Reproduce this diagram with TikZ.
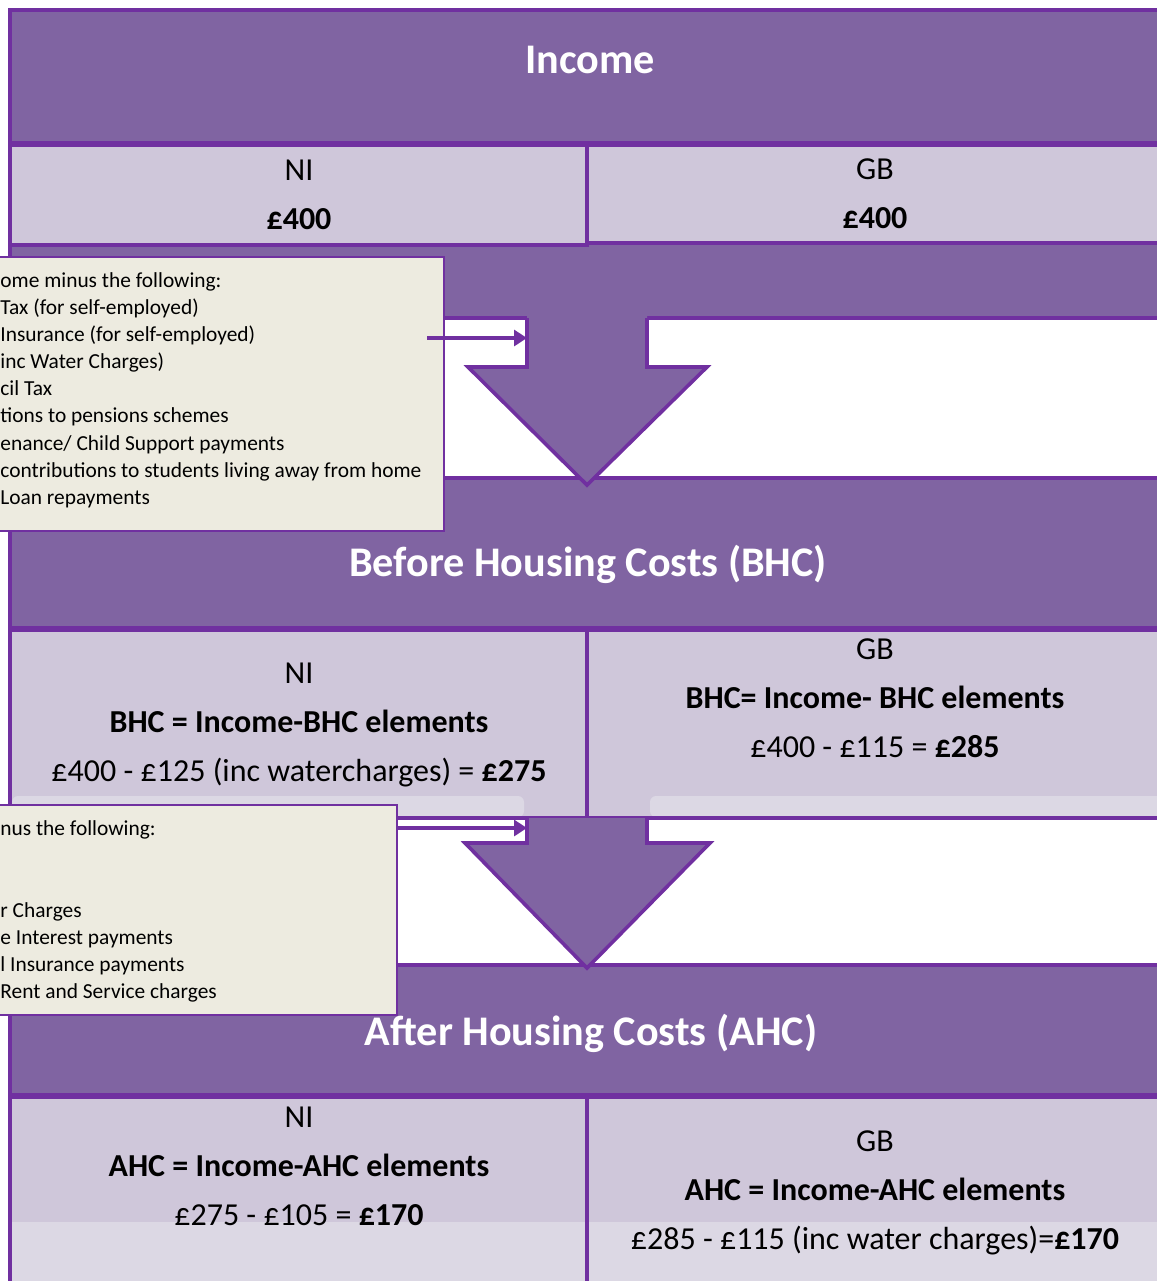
\documentclass[tikz,border=0pt]{standalone}
\usepackage{fontspec}
\setmainfont{Carlito}
\usetikzlibrary{arrows.meta}
\definecolor{purpfill}{HTML}{8064A2}
\definecolor{purpline}{HTML}{7030A0}
\definecolor{cellfill}{HTML}{CFC7DA}
\definecolor{cellpale}{HTML}{DCD8E4}
\definecolor{notefill}{HTML}{EDEBE0}
\begin{document}
\begin{tikzpicture}[x=0.5pt,y=-0.5pt,
  band/.style={fill=purpfill,draw=purpline,line width=1.8pt},
  cellbox/.style={fill=cellfill,draw=purpline,line width=1.8pt},
  gapbox/.style={fill=white,draw=purpline,line width=1.8pt},
  headtext/.style={text=white,font=\fontsize{21.1}{25}\selectfont\bfseries},
  celltext/.style={align=center,font=\fontsize{16}{24.5}\selectfont},
  notebox/.style={fill=notefill,draw=purpline,line width=0.8pt,anchor=north east,inner sep=0pt},
  notetext/.style={align=left,inner sep=0pt,anchor=north west,font=\fontsize{10.7}{13.57}\selectfont},
  link/.style={draw=purpline,line width=1.6pt,-{Triangle[length=6.5pt,width=8pt]}}]
\useasboundingbox (0,0) rectangle (1157,1281);
\clip (0,0) rectangle (1157,1281);
% frame and income
\draw[band] (10,10) rectangle (1165,1300);
\draw[band] (10,10) rectangle (1165,143);
\draw[cellbox] (10,145) rectangle (587,245);
\draw[cellbox] (587,145) rectangle (1165,243);
% first arrow
\draw[gapbox] (10,318) rectangle (1165,478);
\draw[band] (10,478) rectangle (1165,628);
\fill[purpfill] (527,300) -- (527,367) -- (468,367) -- (587,485) -- (707,367) -- (647,367) -- (647,300) -- cycle;
\draw[purpline,line width=1.8pt] (527,318) -- (527,367) -- (468,367) -- (587,485) -- (707,367) -- (647,367) -- (647,318);
% bhc cells
\draw[cellbox] (10,630) rectangle (587,818);
\draw[cellbox] (587,630) rectangle (1165,818);
\fill[cellpale,rounded corners=3] (12,796) rectangle (524,817);
\fill[cellpale,rounded corners=3] (650,796) rectangle (1163,817);
% second arrow
\draw[gapbox] (10,818) rectangle (1165,965);
\draw[band] (10,965) rectangle (1165,1095);
\fill[purpfill] (527,818) -- (527,843) -- (465,843) -- (587,968) -- (710,843) -- (647,843) -- (647,818) -- cycle;
\draw[purpline,line width=1.8pt] (527,818) -- (527,843) -- (465,843) -- (587,968) -- (710,843) -- (647,843) -- (647,818);
% ahc cells
\draw[cellbox] (10,1097) rectangle (587,1300);
\draw[cellbox] (587,1097) rectangle (1165,1300);
\fill[cellpale] (12,1222) rectangle (1163,1300);
\draw[purpline,line width=1.8pt] (587,1097) -- (587,1300);
% texts
\node[headtext] (income) at (590,60) {Income};
\node[celltext] (incNI) at (299,194.5) {NI\\\textbf{£400}};
\node[celltext] (incGB) at (875,194) {GB\\\textbf{£400}};
\node[headtext] (bhc) at (588,564) {Before Housing Costs (BHC)};
\node[celltext] (bhcNI) at (299,725) {NI\\\textbf{BHC = Income-BHC elements}\\£400 - £125 (inc watercharges) = \textbf{£275}};
\node[celltext] (bhcGB) at (875,698) {GB\\\textbf{BHC= Income- BHC elements}\\£400 - £115 = \textbf{£285}};
\node[headtext] (ahc) at (591,1033) {After Housing Costs (AHC)};
\node[celltext] (ahcNI) at (299,1166) {NI\\\textbf{AHC = Income-AHC elements}\\£275 - £105 = \textbf{£170}};
\node[celltext] (ahcGB) at (875,1193) {GB\\\textbf{AHC = Income-AHC elements}\\£285 - £115 (inc water charges)=\textbf{£170}};
% notes
\node[notebox,minimum width=230pt,minimum height=137pt] (note1) at (445,256) {};
\node[notetext] (list1) at (0,272) {ome minus the following:\\Tax (for self-employed)\\Insurance (for self-employed)\\inc Water Charges)\\cil Tax\\tions to pensions schemes\\enance/ Child Support payments\\contributions to students living away from home\\Loan repayments};
\node[notebox,minimum width=206pt,minimum height=105pt] (note2) at (398,804) {};
\node[notetext] (list2) at (0,820.5) {nus the following:\\\mbox{}\\\mbox{}\\r Charges\\e Interest payments\\l Insurance payments\\Rent and Service charges};
\coordinate (shaftA) at (527,338);
\coordinate (shaftB) at (527,828);
\draw[link] ([xshift=-9pt]note1.east |- shaftA) -- (shaftA);
\draw[link] (note2.east |- shaftB) -- (shaftB);
\end{tikzpicture}
\end{document}
